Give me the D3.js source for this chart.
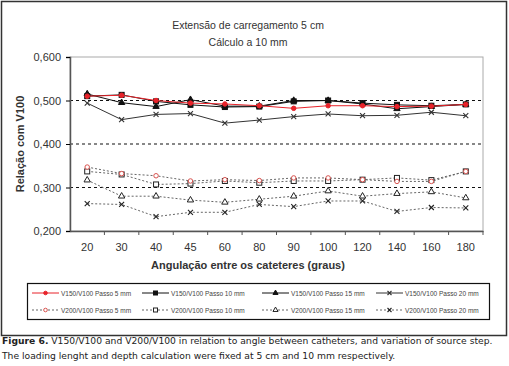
<!DOCTYPE html>
<html>
<head>
<meta charset="utf-8">
<script src="https://cdn.jsdelivr.net/npm/d3@7"></script>
<style>
  body { margin: 0; background: #fff; }
  svg { font-family: "Liberation Sans", Arial, sans-serif; }
</style>
</head>
<body>
<div id="chart"></div>
<script>
// categories and series
var angles = ["20", "30", "40", "45", "60", "80", "90", "100", "120", "140", "160", "180"];
var yTicks = [0.2, 0.3, 0.4, 0.5, 0.6];

var v150p5  = [0.510, 0.512, 0.500, 0.494, 0.492, 0.488, 0.482, 0.488, 0.488, 0.486, 0.487, 0.491];
var v150p10 = [0.510, 0.513, 0.498, 0.490, 0.485, 0.486, 0.498, 0.500, 0.494, 0.490, 0.488, 0.491];
var v150p15 = [0.515, 0.495, 0.486, 0.502, 0.487, 0.487, 0.500, 0.500, 0.492, 0.481, 0.486, 0.491];
var v150p20 = [0.494, 0.456, 0.468, 0.470, 0.448, 0.455, 0.463, 0.469, 0.465, 0.466, 0.473, 0.465];
var v200p5  = [0.347, 0.332, 0.327, 0.315, 0.318, 0.316, 0.322, 0.322, 0.318, 0.314, 0.314, 0.337];
var v200p10 = [0.337, 0.330, 0.307, 0.309, 0.315, 0.311, 0.315, 0.315, 0.318, 0.322, 0.317, 0.337];
var v200p15 = [0.317, 0.280, 0.280, 0.271, 0.266, 0.273, 0.280, 0.292, 0.280, 0.286, 0.290, 0.276];
var v200p20 = [0.263, 0.261, 0.233, 0.243, 0.243, 0.261, 0.256, 0.269, 0.269, 0.245, 0.254, 0.253];

var seriesNames = ["V150/V100 Passo 5 mm", "V150/V100 Passo 10 mm", "V150/V100 Passo 15 mm", "V150/V100 Passo 20 mm",
                   "V200/V100 Passo 5 mm", "V200/V100 Passo 10 mm", "V200/V100 Passo 15 mm", "V200/V100 Passo 20 mm"];

var series = [
  {name: seriesNames[0], values: v150p5,  color: "#e8232a", mark: "circle",   filled: true,  dotted: false},
  {name: seriesNames[1], values: v150p10, color: "#111",    mark: "square",   filled: true,  dotted: false},
  {name: seriesNames[2], values: v150p15, color: "#111",    mark: "triangle", filled: true,  dotted: false},
  {name: seriesNames[3], values: v150p20, color: "#333",    mark: "cross",    filled: true,  dotted: false},
  {name: seriesNames[4], values: v200p5,  color: "#d9534f", mark: "circle",   filled: false, dotted: true},
  {name: seriesNames[5], values: v200p10, color: "#222",    mark: "square",   filled: false, dotted: true},
  {name: seriesNames[6], values: v200p15, color: "#222",    mark: "triangle", filled: false, dotted: true},
  {name: seriesNames[7], values: v200p20, color: "#222",    mark: "cross",    filled: false, dotted: true}
];

var svgWidth = 509, svgHeight = 366;
var margin = {top: 57, right: 26, bottom: 135, left: 70};
var width = svgWidth - margin.left - margin.right;
var height = svgHeight - margin.top - margin.bottom;

var svg = d3.select("#chart").append("svg")
  .attr("width", svgWidth)
  .attr("height", svgHeight);

// outer frame
svg.append("rect")
  .attr("x", 1.5).attr("y", 1.5)
  .attr("width", 505).attr("height", 334)
  .attr("fill", "none").attr("stroke", "#333").attr("stroke-width", 1.5);

// title
svg.append("text").attr("x", 248).attr("y", 28.5).attr("text-anchor", "middle")
  .attr("font-size", 10.5).attr("fill", "#333").text("Extensão de carregamento 5 cm");
svg.append("text").attr("x", 248).attr("y", 45.5).attr("text-anchor", "middle")
  .attr("font-size", 10.5).attr("fill", "#333").text("Cálculo a 10 mm");

var chartGroup = svg.append("g")
  .attr("transform", `translate(${margin.left}, ${margin.top})`);

var x = d3.scaleBand().domain(angles).range([0, width]);
var y = d3.scaleLinear().domain([0.2, 0.6]).range([height, 0]);

// plot border (light)
chartGroup.append("rect")
  .attr("width", width).attr("height", height)
  .attr("fill", "none").attr("stroke", "#aaa");

// dotted gridlines
chartGroup.selectAll(".grid")
  .data([0.3, 0.4, 0.5])
  .enter().append("line")
  .attr("x1", 0).attr("x2", width)
  .attr("y1", d => y(d)).attr("y2", d => y(d))
  .attr("stroke", "#111").attr("stroke-width", 1.2)
  .attr("stroke-dasharray", "3,3");

// axes
var yAxis = d3.axisLeft(y).tickValues(yTicks).tickSize(4)
  .tickFormat(d => d3.format(".3f")(d).replace(".", ","));
var gy = chartGroup.append("g").call(yAxis);
gy.select(".domain").attr("stroke", "#555").attr("stroke-width", 1.5);
gy.selectAll("text").attr("font-size", 11).attr("fill", "#333").attr("dx", -2);

var xAxis = d3.axisBottom(x).tickSize(0).tickPadding(12);
var gx = chartGroup.append("g").attr("transform", `translate(0, ${height})`).call(xAxis);
gx.select(".domain").attr("stroke", "#555").attr("stroke-width", 1.5);
gx.selectAll("text").attr("font-size", 11).attr("fill", "#333");
// tick marks on category boundaries
gx.selectAll(".bound")
  .data(angles.slice(1).concat(["end"]))
  .enter().append("line")
  .attr("x1", (d, i) => x.step() * (i + 1)).attr("x2", (d, i) => x.step() * (i + 1))
  .attr("y1", 0).attr("y2", 4)
  .attr("stroke", "#555");

// axis titles
svg.append("text").attr("x", 248).attr("y", 269).attr("text-anchor", "middle")
  .attr("font-size", 11).attr("font-weight", "bold").attr("fill", "#333")
  .text("Angulação entre os cateteres (graus)");
svg.append("text")
  .attr("transform", `translate(24, ${margin.top + height / 2}) rotate(-90)`)
  .attr("text-anchor", "middle")
  .attr("font-size", 11).attr("font-weight", "bold").attr("fill", "#333")
  .text("Relação com V100");

function drawMark(g, s, cx, cy, size) {
  var fill = s.filled ? s.color : "#fff";
  if (s.mark == "circle") {
    g.append("circle").attr("cx", cx).attr("cy", cy).attr("r", size * 0.45)
      .attr("fill", fill).attr("stroke", s.color).attr("stroke-width", 1);
  } else if (s.mark == "square") {
    g.append("rect").attr("x", cx - size / 2).attr("y", cy - size / 2)
      .attr("width", size).attr("height", size)
      .attr("fill", fill).attr("stroke", s.color).attr("stroke-width", 1);
  } else if (s.mark == "triangle") {
    g.append("path")
      .attr("d", d3.symbol().type(d3.symbolTriangle).size(size * size * 0.7)())
      .attr("transform", `translate(${cx},${cy})`)
      .attr("fill", fill).attr("stroke", s.color).attr("stroke-width", 1);
  } else {
    var h = size / 2;
    g.append("path")
      .attr("d", `M${cx - h},${cy - h}L${cx + h},${cy + h}M${cx - h},${cy + h}L${cx + h},${cy - h}`)
      .attr("stroke", s.color).attr("stroke-width", 1.1);
  }
}

var line = d3.line()
  .x((d, i) => x(angles[i]) + x.bandwidth() / 2)
  .y(d => y(d));

// lower (dotted) series first, then solid series on top
series.slice().reverse().forEach(function(s) {
  var g = chartGroup.append("g");
  g.append("path")
    .attr("d", line(s.values))
    .attr("fill", "none")
    .attr("stroke", s.dotted ? "#666" : s.color)
    .attr("stroke-width", s.dotted ? 1 : 1)
    .attr("stroke-dasharray", s.dotted ? "2,2" : null);
  s.values.forEach(function(v, i) {
    drawMark(g, s, x(angles[i]) + x.bandwidth() / 2, y(v), 5);
  });
});

// legend
var legend = svg.append("g");
legend.append("rect")
  .attr("x", 27.5).attr("y", 283.5).attr("width", 462).attr("height", 36)
  .attr("fill", "none").attr("stroke", "#111").attr("stroke-width", 1.2);
var colX = [32, 142, 262, 376];
series.forEach(function(s, i) {
  var lx = colX[i % 4], ly = i < 4 ? 293 : 310;
  legend.append("line")
    .attr("x1", lx).attr("x2", lx + 27).attr("y1", ly).attr("y2", ly)
    .attr("stroke", s.dotted ? "#666" : s.color)
    .attr("stroke-dasharray", s.dotted ? "2,2" : null);
  drawMark(legend, s, lx + 13.5, ly, 4);
  legend.append("text").attr("x", lx + 29).attr("y", ly + 2.5)
    .attr("font-size", 6.5).attr("fill", "#444").text(s.name);
});

// caption
var cap = svg.append("text").attr("x", 2).attr("y", 344)
  .attr("font-family", "DejaVu Sans").attr("font-size", 9.2).attr("fill", "#222");
cap.append("tspan").attr("font-weight", "bold").text("Figure 6.");
cap.append("tspan").text(" V150/V100 and V200/V100 in relation to angle between catheters, and variation of source step.");
svg.append("text").attr("x", 2).attr("y", 359)
  .attr("font-family", "DejaVu Sans").attr("font-size", 9.2).attr("fill", "#222")
  .text("The loading lenght and depth calculation were fixed at 5 cm and 10 mm respectively.");
</script>
</body>
</html>
